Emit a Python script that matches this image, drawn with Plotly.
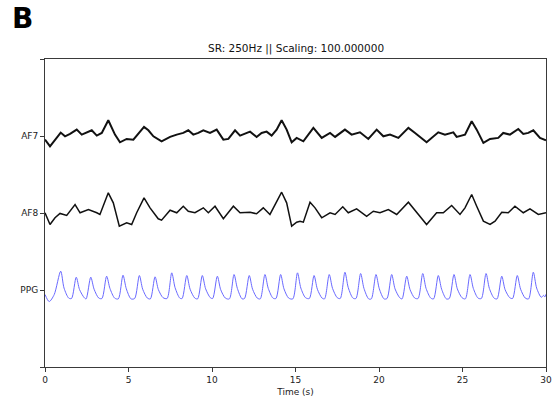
import plotly.graph_objects as go

# ---------------- data (amplitudes, in raw units; plotted /scaling) ----------------
scaling = 100.0
channels = ["AF7", "AF8", "PPG"]
offsets = [3, 2, 1]

af7_t = [0.0, 0.3, 0.94, 1.2, 1.5, 1.9, 2.2, 2.8, 3.1, 3.4, 3.79, 4.19, 4.49, 4.89, 5.29, 5.69, 5.93,
         6.19, 6.49, 6.98, 7.49, 7.89, 8.28, 8.58, 8.88, 9.18, 9.48, 9.88, 10.28, 10.68, 10.98, 11.38,
         11.68, 12.28, 12.67, 12.97, 13.27, 13.57, 13.87, 14.17, 14.47, 14.77, 15.07, 15.47, 16.07,
         16.57, 17.07, 17.37, 17.96, 18.36, 18.86, 19.36, 19.86, 20.26, 20.66, 21.16, 21.76, 22.16,
         22.56, 22.85, 23.55, 23.95, 24.45, 24.65, 25.15, 25.55, 25.85, 26.25, 26.65, 27.14, 27.44,
         27.84, 28.34, 28.64, 28.94, 29.24, 29.64, 30.0]
af7_v = [-4.7, -13.4, 4.4, -0.4, 2.7, 8.3, 1.8, 7.4, 0.5, 4.0, 20.4, 1.8, -8.2, -3.8, -4.7, 6.1, 11.8,
         7.4, -0.4, -6.9, -1.2, 1.8, 4.0, 7.4, 1.8, 4.0, 7.4, 4.0, 8.3, -4.7, -3.8, 7.4,
         0.5, 5.7, -1.2, 4.0, 5.7, 0.5, 8.3, 20.4, 8.3, -8.2, -2.5, -6.9, 10.5,
         -2.5, 4.0, -1.2, 8.3, 1.8, 4.8, -3.8, 8.3, -0.4, 1.8, -2.5, 10.5, 4.0,
         -2.5, -8.2, 4.8, 1.8, 4.8, -1.2, 1.8, 19.1, 8.3, -8.9, -3.8, -2.5, 4.0,
         1.8, 9.2, 2.7, 4.0, 7.4, -2.5, -5.6]

af8_t = [0.0, 0.3, 0.6, 0.9, 1.3, 1.8, 2.1, 2.6, 3.1, 3.29, 3.79, 4.09, 4.45, 4.89, 5.19, 5.49, 5.93,
         6.29, 6.78, 6.98, 7.49, 7.89, 8.28, 8.58, 8.98, 9.48, 9.78, 10.18, 10.68, 11.28, 11.68, 12.28,
         12.67, 13.07, 13.47, 14.17, 14.47, 14.77, 15.07, 15.27, 15.47, 15.87, 16.17, 16.57, 17.07,
         17.37, 17.83, 18.16, 18.66, 19.26, 19.66, 20.06, 20.56, 21.06, 21.76, 22.26, 22.85, 23.45,
         23.85, 24.35, 24.85, 25.15, 25.55, 25.85, 26.25, 26.65, 26.95, 27.35, 27.74, 28.14, 28.64,
         29.04, 29.54, 30.0]
af8_v = [0.3, -14.9, -6.2, -0.6, -3.2, 11.0, 0.3, 4.5, 0.3, -1.9, 26.2, 13.2, -17.1, -12.7, -14.9, 0.3, 19.7,
         6.7, -7.5, -9.3, 3.6, 0.3, 8.8, 2.3, 0.3, 6.7, 0.3, 8.8, -7.5, 8.8, 0.3, 1.0,
         -1.0, 6.7, -1.9, 27.0, 13.2, -17.1, -11.9, -10.6, -11.9, 14.0, 6.7, -6.2, 0.3,
         -1.9, 8.0, 0.3, 5.4, -4.2, 2.3, 0.3, 4.5, -1.9, 14.0, 0.3, -14.9, 0.3,
         0.3, 9.7, -1.9, 6.7, 24.0, 8.8, -10.6, -14.9, -10.6, 1.0, 0.3, 8.8, 0.3,
         5.4, -1.9, 0.3]

# PPG: start, peaks, post-peak fall points, troughs, pre-rise points, end
ppg_start_t = [0.0, 0.25, 0.55]
ppg_start_v = [-5.8, -15.0, -6.0]
ppg_peak_t = [0.94, 1.87, 2.74, 3.69, 4.67, 5.65, 6.59, 7.59, 8.49, 9.42, 10.32, 11.32, 12.23, 13.17,
              14.11, 15.12, 16.11, 17.02, 17.96, 18.90, 19.82, 20.76, 21.66, 22.62, 23.55, 24.49,
              25.45, 26.41, 27.35, 28.28, 29.24]
ppg_peak_v = [24.4, 16.6, 16.6, 17.9, 19.2, 18.8, 17.1, 22.3, 18.8, 18.8, 17.9, 20.1, 18.8, 20.1,
              20.1, 22.3, 18.8, 20.1, 23.1, 21.4, 20.1, 20.1, 17.9, 21.4, 18.8, 20.1,
              20.1, 21.4, 17.9, 18.8, 23.1]
ppg_fall_t = [1.14, 2.07, 2.94, 3.89, 4.87, 5.85, 6.79, 7.79, 8.69, 9.62, 10.52, 11.52, 12.43, 13.37,
              14.31, 15.32, 16.31, 17.22, 18.16, 19.10, 20.02, 20.96, 21.86, 22.82, 23.75, 24.69,
              25.65, 26.61, 27.55, 28.48, 29.44]
ppg_fall_v = [2.5, 0.5, 1.0, 2.0, 1.5, 1.0, 0.5, 3.0, 1.0, 1.5, 0.5, 2.0, 1.0, 2.0,
              1.5, 2.5, 1.0, 2.0, 3.0, 2.0, 1.5, 1.5, 0.5, 2.0, 1.0, 1.5,
              2.0, 2.0, 0.5, 1.0, 2.5]
ppg_trough_t = [1.42, 2.35, 3.22, 4.17, 5.15, 6.13, 7.07, 8.07, 8.97, 9.90, 10.80, 11.80, 12.71, 13.65,
                14.59, 15.60, 16.59, 17.50, 18.44, 19.38, 20.30, 21.24, 22.14, 23.10, 24.03, 24.97,
                25.93, 26.89, 27.83, 28.76, 29.72]
ppg_trough_v = [-10.5, -10.0, -10.5, -10.5, -11.5, -10.5, -10.0, -10.5, -10.5, -10.0, -10.5, -11.5, -10.5, -10.5,
                -10.5, -10.0, -10.5, -10.0, -10.5, -11.5, -11.5, -10.0, -10.5, -10.5, -11.5, -10.0,
                -10.5, -10.5, -10.0, -10.5, -9.5]
ppg_prerise_t = [1.59, 2.46, 3.41, 4.39, 5.37, 6.31, 7.31, 8.21, 9.14, 10.04, 11.04, 11.95, 12.89,
                 13.83, 14.84, 15.83, 16.74, 17.68, 18.62, 19.54, 20.48, 21.38, 22.34, 23.27, 24.21,
                 25.17, 26.13, 27.07, 28.00, 28.96]
ppg_prerise_v = [-11.0, -11.5, -11.0, -11.5, -11.0, -11.5, -11.0, -11.0, -11.5, -11.0, -11.5, -11.0, -11.5,
                 -11.0, -11.5, -11.0, -11.5, -11.0, -11.0, -11.5, -11.0, -11.5, -11.0, -11.5, -11.0,
                 -11.5, -11.0, -11.5, -11.0, -11.5]
ppg_end_t = [29.85, 29.93, 30.0]
ppg_end_v = [-7.0, -9.0, -5.5]

x_ticks = [0, 5, 10, 15, 20, 25, 30]

# ---------------- build ----------------
ppg_pts = sorted(
    list(zip(ppg_start_t, ppg_start_v)) + list(zip(ppg_peak_t, ppg_peak_v)) +
    list(zip(ppg_fall_t, ppg_fall_v)) + list(zip(ppg_trough_t, ppg_trough_v)) +
    list(zip(ppg_prerise_t, ppg_prerise_v)) + list(zip(ppg_end_t, ppg_end_v))
)
ppg_t = [p[0] for p in ppg_pts]
ppg_v = [p[1] for p in ppg_pts]

fig = go.Figure()
fig.add_trace(go.Scatter(x=af7_t, y=[offsets[0] + v / scaling for v in af7_v], mode="lines",
                         line=dict(color="#111", width=2.0), hoverinfo="skip", showlegend=False))
fig.add_trace(go.Scatter(x=af8_t, y=[offsets[1] + v / scaling for v in af8_v], mode="lines",
                         line=dict(color="#111", width=1.5), hoverinfo="skip", showlegend=False))
fig.add_trace(go.Scatter(x=ppg_t, y=[offsets[2] + v / scaling for v in ppg_v], mode="lines",
                         line=dict(color="rgb(105,105,255)", width=1.0, shape="spline", smoothing=0.8),
                         hoverinfo="skip", showlegend=False))

axis_common = dict(showline=True, linecolor="#3a3a3a", linewidth=1, mirror=True, showgrid=False,
                   zeroline=False, ticks="outside", ticklen=4, tickcolor="#3a3a3a", automargin=False,
                   tickfont=dict(family="DejaVu Sans", size=9, color="#222"))

fig.update_layout(
    width=555, height=403,
    margin=dict(l=45, r=9, t=59, b=36),
    plot_bgcolor="white", paper_bgcolor="white",
    xaxis=dict(range=[0, 30], tickvals=x_ticks, ticktext=[str(v) for v in x_ticks],
               title=dict(text="Time (s)", font=dict(family="DejaVu Sans", size=9, color="#222"), standoff=4),
               **axis_common),
    yaxis=dict(range=[0, 4], tickvals=[0, 1, 2, 3, 4], ticktext=["", "PPG", "AF8", "AF7", ""],
               **axis_common),
    annotations=[
        dict(text="SR: 250Hz || Scaling: 100.000000", xref="paper", yref="paper", x=0.5, y=1,
             xanchor="center", yanchor="bottom", yshift=2, showarrow=False,
             font=dict(family="DejaVu Sans", size=10.5, color="#111")),
        dict(text="<b>B</b>", xref="paper", yref="paper", x=-45 / 501, y=1 + 55 / 309,
             xanchor="left", yanchor="top", xshift=10, yshift=4, showarrow=False,
             font=dict(family="DejaVu Sans", size=28, color="black")),
    ],
)

fig.write_html("out.html")
